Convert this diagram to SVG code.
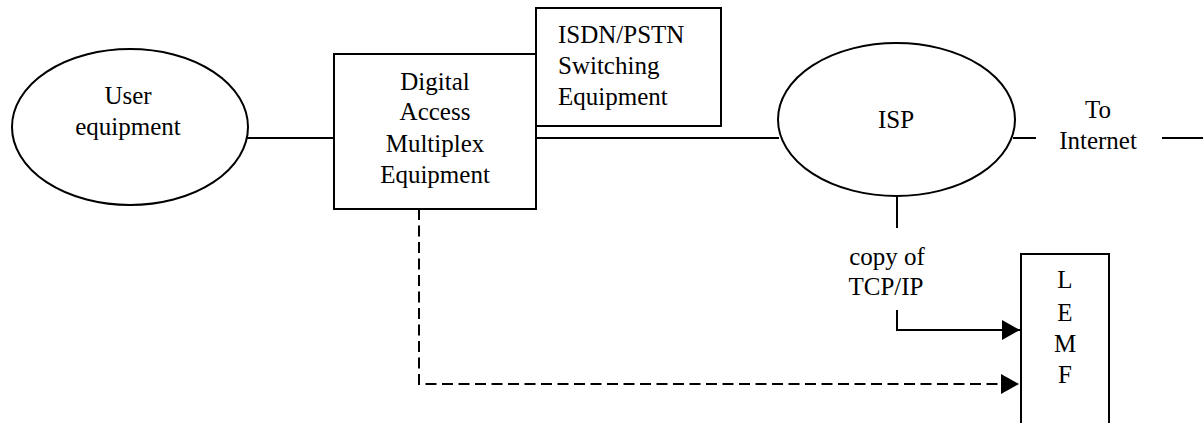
<svg xmlns="http://www.w3.org/2000/svg" width="1203" height="423" viewBox="0 0 1203 423">
<style>
.s{fill:#fff;stroke:#000;stroke-width:2}
.l{fill:none;stroke:#000;stroke-width:2}
.d{fill:none;stroke:#000;stroke-width:2;stroke-dasharray:11 5.5}
text{font-family:"Liberation Serif","Times New Roman",serif;font-size:25px;fill:#000}
.c{text-anchor:middle}
</style>
<defs>
<marker id="ah" viewBox="0 0 18 20" refX="18" refY="10" markerWidth="18" markerHeight="20" markerUnits="userSpaceOnUse" orient="auto">
<path d="M0,0 L18,10 L0,20 Z" fill="#000"/>
</marker>
</defs>
<g id="connectors">
<line class="l" x1="247" y1="138" x2="334" y2="138"/>
<line class="l" x1="536" y1="138" x2="779" y2="138"/>
<line class="l" x1="1013" y1="138" x2="1036" y2="138"/>
<line class="l" x1="1162" y1="138" x2="1203" y2="138"/>
<line class="l" x1="897" y1="196" x2="897" y2="228"/>
<polyline class="l" points="897,310 897,330 1020,330" marker-end="url(#ah)"/>
<polyline class="d" points="419,209 419,384 1019,384" marker-end="url(#ah)"/>
</g>
<g id="user">
<ellipse class="s" cx="130" cy="127" rx="118" ry="78"/>
<text class="c" x="128" y="104">User</text>
<text class="c" x="128" y="135">equipment</text>
</g>
<g id="dame">
<rect class="s" x="334" y="54" width="202" height="155"/>
<text class="c" x="435" y="90">Digital</text>
<text class="c" x="435" y="120">Access</text>
<text class="c" x="435" y="152">Multiplex</text>
<text class="c" x="435" y="183">Equipment</text>
</g>
<g id="isdn">
<rect class="s" x="536" y="8" width="185" height="118"/>
<text x="558" y="43">ISDN/PSTN</text>
<text x="558" y="74">Switching</text>
<text x="558" y="105">Equipment</text>
</g>
<g id="isp">
<ellipse class="s" cx="896.5" cy="119.5" rx="118.5" ry="76.5"/>
<text class="c" x="896" y="128">ISP</text>
</g>
<g id="internet">
<text class="c" x="1098" y="118">To</text>
<text class="c" x="1098" y="149">Internet</text>
</g>
<g id="copy">
<text class="c" x="887" y="265">copy of</text>
<text class="c" x="886" y="295">TCP/IP</text>
</g>
<g id="lemf">
<rect class="s" x="1021" y="254" width="88" height="180"/>
<text class="c" x="1065" y="288">L</text>
<text class="c" x="1065" y="321">E</text>
<text class="c" x="1065" y="352">M</text>
<text class="c" x="1065" y="383">F</text>
</g>
</svg>
